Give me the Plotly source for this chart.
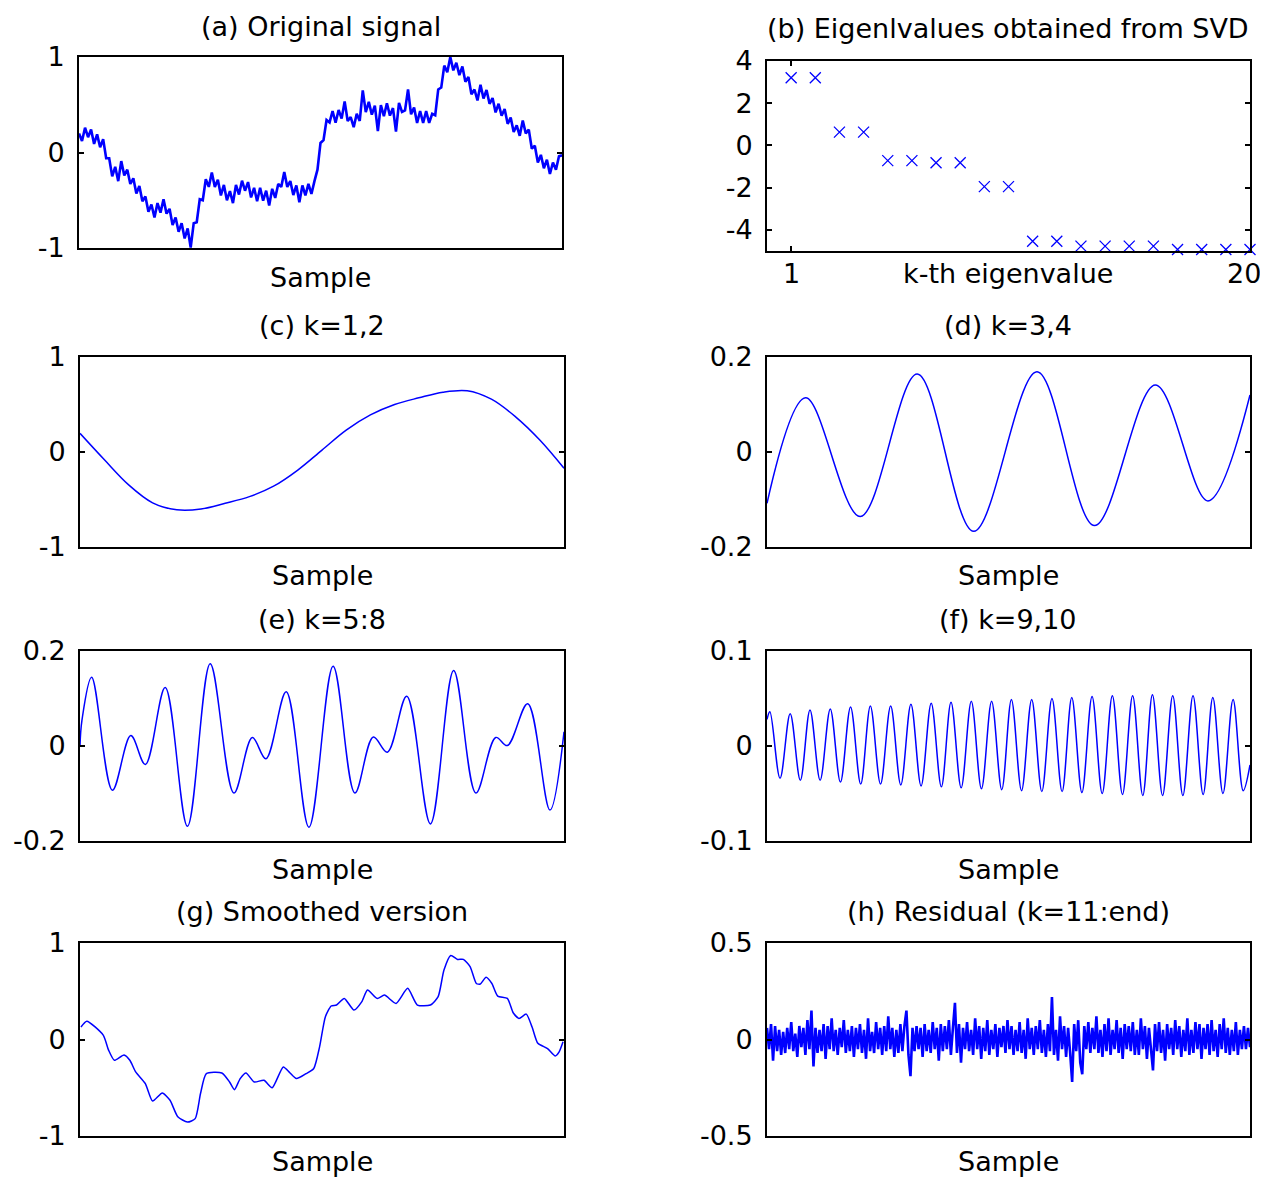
import plotly.graph_objects as go

# page geometry: the plot div sits inside the default 8px body margin
PAGE_W, PAGE_H = 1268, 1180
OFF = 8
W, H = PAGE_W - OFF, PAGE_H - OFF
FONT = "DejaVu Sans, Verdana, sans-serif"
FS = 27
BLUE = "#0000ff"
N_SAMPLES = 1000

# ---------------- data ----------------
# (a) original signal, evenly spaced over the sample axis
signal_original = [
    0.20, 0.12, 0.26, 0.16, 0.24, 0.09, 0.19, 0.055, 0.14, -0.06,
    -0.06, -0.25, -0.15, -0.30, -0.09, -0.24, -0.18, -0.33, -0.27, -0.43,
    -0.35, -0.51, -0.46, -0.62, -0.545, -0.68, -0.53, -0.63, -0.49, -0.64,
    -0.59, -0.76, -0.68, -0.83, -0.74, -0.90, -0.795, -0.995, -0.74, -0.73,
    -0.49, -0.50, -0.28, -0.36, -0.21, -0.36, -0.285, -0.45, -0.34, -0.50,
    -0.405, -0.53, -0.34, -0.44, -0.295, -0.40, -0.31, -0.47, -0.37, -0.51,
    -0.37, -0.505, -0.40, -0.555, -0.38, -0.475, -0.33, -0.36, -0.205, -0.36,
    -0.30, -0.445, -0.345, -0.52, -0.345, -0.45, -0.328, -0.434, -0.30, -0.18,
    0.10, 0.13, 0.34, 0.315, 0.435, 0.312, 0.445, 0.355, 0.535, 0.33,
    0.37, 0.265, 0.405, 0.33, 0.65, 0.423, 0.53, 0.396, 0.49, 0.225,
    0.497, 0.38, 0.516, 0.386, 0.465, 0.22, 0.52, 0.425, 0.44, 0.66,
    0.40, 0.47, 0.31, 0.433, 0.31, 0.433, 0.31, 0.405, 0.39, 0.66,
    0.68, 0.91, 0.84, 1.0, 0.86, 0.94, 0.81, 0.90, 0.74, 0.79,
    0.61, 0.66, 0.545, 0.71, 0.565, 0.655, 0.51, 0.57, 0.42, 0.51,
    0.385, 0.455, 0.30, 0.365, 0.215, 0.285, 0.175, 0.335, 0.20, 0.24,
    0.04, 0.07, -0.105, -0.025, -0.165, -0.075, -0.225, -0.105, -0.18, -0.04, -0.03,
]

# (b) eigenvalues (log scale values as plotted)
eig_index = list(range(1, 21))
eig_values = [3.21, 3.21, 0.63, 0.63, -0.72, -0.72, -0.82, -0.82, -1.95, -1.95,
              -4.54, -4.54, -4.77, -4.77, -4.77, -4.77, -4.93, -4.93, -4.93, -4.93]

# (c) k=1,2
comp12_samples = [0, 50, 100, 150, 200, 250, 300, 350, 400, 450, 500,
                  550, 600, 650, 700, 750, 800, 850, 900, 950, 1000]
comp12_values = [0.196, -0.08, -0.344, -0.535, -0.608, -0.60, -0.54, -0.47, -0.36, -0.19, 0.02,
                 0.23, 0.39, 0.50, 0.57, 0.63, 0.645, 0.556, 0.37, 0.126, -0.171]

# (d) k=3,4 (extrema)
comp34_samples = [0, 80, 193, 311, 428, 559, 678, 804, 913, 1000]
comp34_values = [-0.108, 0.114, -0.136, 0.164, -0.167, 0.169, -0.155, 0.141, -0.103, 0.12]

# (e) k=5:8 (extrema)
comp58_samples = [0, 4, 24, 67, 105, 135, 176, 222, 269, 318, 356, 384, 426, 473,
                  523, 568, 606, 635, 675, 724, 772, 818, 859, 883, 925, 971, 1000]
comp58_values = [0.0, 0.054, 0.145, -0.093, 0.022, -0.039, 0.123, -0.169, 0.173, -0.099,
                 0.018, -0.027, 0.114, -0.171, 0.168, -0.099, 0.019, -0.013, 0.105, -0.164,
                 0.159, -0.099, 0.018, 0.001, 0.089, -0.135, 0.03]

# (f) k=9,10 (alternating peaks and troughs)
comp910_samples = [0, 6, 27, 48, 69, 89, 110, 131, 152, 173, 194, 214, 235, 256, 277, 298,
                   319, 340, 361, 381, 402, 423, 444, 465, 486, 506, 527, 548, 569, 590,
                   611, 631, 652, 673, 694, 715, 736, 757, 778, 798, 819, 840, 861, 882,
                   903, 923, 944, 965, 986, 1000]
comp910_values = [0.028, 0.036, -0.034, 0.034, -0.036, 0.038, -0.036, 0.039, -0.038, 0.041,
                  -0.040, 0.042, -0.040, 0.042, -0.041, 0.044, -0.042, 0.045, -0.043, 0.046,
                  -0.044, 0.047, -0.045, 0.047, -0.046, 0.049, -0.047, 0.049, -0.048, 0.050,
                  -0.048, 0.051, -0.049, 0.052, -0.050, 0.053, -0.051, 0.053, -0.052, 0.054,
                  -0.052, 0.053, -0.052, 0.053, -0.051, 0.051, -0.050, 0.049, -0.047, -0.02]

# (g) smoothed version
smooth_samples = [2, 14, 48, 59, 71, 91, 103, 115, 135, 150, 170, 186, 202, 222, 238, 249,
                  261, 293, 309, 319, 331, 343, 360, 380, 397, 420, 434, 447, 467, 483, 495,
                  507, 519, 530, 546, 566, 582, 594, 614, 629, 653, 677, 697, 724, 740, 752,
                  766, 780, 792, 806, 819, 827, 839, 851, 863, 883, 895, 907, 922, 934, 946,
                  966, 982, 990, 998]
smooth_values = [0.13, 0.19, 0.045, -0.11, -0.215, -0.16, -0.215, -0.336, -0.457, -0.638,
                 -0.555, -0.63, -0.80, -0.856, -0.82, -0.56, -0.354, -0.347, -0.44, -0.52,
                 -0.405, -0.347, -0.44, -0.423, -0.50, -0.284, -0.347, -0.405, -0.354, -0.30,
                 -0.076, 0.236, 0.347, 0.357, 0.426, 0.305, 0.39, 0.513, 0.426, 0.46,
                 0.374, 0.53, 0.357, 0.357, 0.444, 0.72, 0.87, 0.83, 0.83, 0.756,
                 0.58, 0.575, 0.645, 0.58, 0.45, 0.426, 0.277, 0.218, 0.263, 0.13,
                 -0.04, -0.094, -0.17, -0.128, -0.024]

# (h) residual, evenly spaced over the sample axis
residual = [
    0.06, -0.05, 0.08, -0.11, 0.07, -0.06, 0.05, -0.08, 0.04, -0.07, 0.06, -0.05, 0.09, -0.06, 0.03, -0.09, 0.07, -0.04, 0.06, -0.08,
    0.10, -0.05, 0.15, -0.14, 0.06, -0.07, 0.05, -0.06, 0.08, -0.10, 0.07, -0.05, 0.11, -0.06, 0.05, -0.08, 0.06, -0.04, 0.10, -0.07,
    0.05, -0.06, 0.07, -0.09, 0.06, -0.05, 0.08, -0.07, 0.05, -0.10, 0.11, -0.06, 0.04, -0.07, 0.09, -0.05, 0.06, -0.08, 0.07, -0.06,
    0.12, -0.05, 0.06, -0.09, 0.05, -0.07, 0.08, -0.06, 0.07, 0.15, -0.08, -0.19, 0.06, -0.06, 0.07, -0.05, 0.06, -0.09, 0.08, -0.06,
    0.05, -0.07, 0.09, -0.05, 0.06, -0.11, 0.08, -0.06, 0.07, -0.05, 0.10, -0.08, 0.06, 0.19, -0.07, 0.08, -0.12, 0.06, -0.05, 0.09,
    -0.06, 0.05, -0.08, 0.11, -0.05, 0.07, -0.10, 0.06, -0.06, 0.10, -0.08, 0.05, -0.05, 0.08, -0.09, 0.06, -0.04, 0.07, -0.07, 0.10,
    -0.05, 0.07, -0.08, 0.05, -0.06, 0.09, -0.07, 0.05, -0.10, 0.11, -0.05, 0.06, -0.08, 0.07, -0.05, 0.10, -0.07, 0.05, -0.09, 0.08,
    -0.06, 0.22, -0.08, 0.05, -0.11, 0.12, -0.05, 0.07, -0.09, 0.06, -0.07, -0.22, 0.08, -0.06, 0.10, -0.12, -0.18, 0.07, -0.05, 0.09,
    -0.07, 0.06, -0.05, 0.12, -0.07, 0.05, -0.09, 0.08, -0.06, 0.11, -0.08, 0.05, -0.05, 0.10, -0.07, 0.06, -0.10, 0.08, -0.05, 0.07,
    -0.06, 0.09, -0.08, 0.05, -0.08, 0.11, -0.05, 0.07, -0.10, 0.06, -0.05, -0.16, 0.08, -0.06, 0.09, -0.07, 0.05, -0.11, 0.08, -0.05,
    0.06, -0.08, 0.10, -0.05, 0.07, -0.09, 0.05, -0.06, 0.11, -0.08, 0.05, -0.07, 0.09, -0.05, 0.08, -0.10, 0.06, -0.05, 0.08, -0.08,
    0.10, -0.06, 0.05, -0.09, 0.08, -0.05, 0.11, -0.07, 0.06, -0.08, 0.05, -0.06, 0.09, -0.08, 0.05, -0.05, 0.07, -0.05, 0.06, -0.04,
]

titles = ["(a) Original signal", "(b) Eigenlvalues obtained from SVD", "(c) k=1,2", "(d) k=3,4",
          "(e) k=5:8", "(f) k=9,10", "(g) Smoothed version", "(h) Residual (k=11:end)"]
xlabels = ["Sample", "k-th eigenvalue", "Sample", "Sample", "Sample", "Sample", "Sample", "Sample"]
y_ticks = [[-1, 0, 1], [-4, -2, 0, 2, 4], [-1, 0, 1], [-0.2, 0, 0.2],
           [-0.2, 0, 0.2], [-0.1, 0, 0.1], [-1, 0, 1], [-0.5, 0, 0.5]]
y_ticktext = [["-1", "0", "1"], ["-4", "-2", "0", "2", "4"], ["-1", "0", "1"], ["-0.2", "0", "0.2"],
              ["-0.2", "0", "0.2"], ["-0.1", "0", "0.1"], ["-1", "0", "1"], ["-0.5", "0", "0.5"]]
y_ranges = [[-1, 1], [-5, 4], [-1, 1], [-0.2, 0.2], [-0.2, 0.2], [-0.1, 0.1], [-1, 1], [-0.5, 0.5]]
eig_xtick_vals = [1, 20]
eig_xtick_text = ["1", "20"]

# ---------------- layout geometry (page pixels) ----------------
boxes = [
    (79, 57, 562, 248),
    (767, 61, 1250, 251),
    (80, 357, 564, 547),
    (767, 357, 1250, 547),
    (80, 651, 564, 841),
    (767, 651, 1250, 841),
    (80, 943, 564, 1136),
    (767, 943, 1250, 1136),
]
title_y = [26, 28, 326, 326, 619, 619, 911, 911]
xlabel_y = [277, 274, 575, 575, 869, 869, 1161, 1161]


def px(x):
    return (x - OFF) / W


def py(y):
    return 1 - (y - OFF) / H


fig = go.Figure()


def ax(i):
    return ("x", "y") if i == 0 else (f"x{i+1}", f"y{i+1}")


# (a)
n_a = len(signal_original)
xa, ya = ax(0)
fig.add_trace(go.Scatter(x=[k * N_SAMPLES / (n_a - 1) for k in range(n_a)], y=signal_original,
                         mode="lines", line=dict(color=BLUE, width=2.6), xaxis=xa, yaxis=ya))
# (b)
xb, yb = ax(1)
fig.add_trace(go.Scatter(x=eig_index, y=eig_values, mode="markers", cliponaxis=False,
                         marker=dict(symbol="x-thin", size=11, color=BLUE,
                                     line=dict(color=BLUE, width=1.3)),
                         xaxis=xb, yaxis=yb))
# (c)
xc, yc = ax(2)
fig.add_trace(go.Scatter(x=comp12_samples, y=comp12_values, mode="lines",
                         line=dict(color=BLUE, width=1.5, shape="spline"), xaxis=xc, yaxis=yc))
# (d)
xd, yd = ax(3)
fig.add_trace(go.Scatter(x=comp34_samples, y=comp34_values, mode="lines",
                         line=dict(color=BLUE, width=1.5, shape="spline"), xaxis=xd, yaxis=yd))
# (e)
xe, ye = ax(4)
fig.add_trace(go.Scatter(x=comp58_samples, y=comp58_values, mode="lines",
                         line=dict(color=BLUE, width=1.5, shape="spline"), xaxis=xe, yaxis=ye))
# (f)
xf, yf = ax(5)
fig.add_trace(go.Scatter(x=comp910_samples, y=comp910_values, mode="lines",
                         line=dict(color=BLUE, width=1.5, shape="spline"), xaxis=xf, yaxis=yf))
# (g)
xg, yg = ax(6)
fig.add_trace(go.Scatter(x=smooth_samples, y=smooth_values, mode="lines",
                         line=dict(color=BLUE, width=1.5, shape="spline", smoothing=0.6),
                         xaxis=xg, yaxis=yg))
# (h)
n_h = len(residual)
xh, yh = ax(7)
fig.add_trace(go.Scatter(x=[k * N_SAMPLES / (n_h - 1) for k in range(n_h)], y=residual,
                         mode="lines", line=dict(color=BLUE, width=2.6), xaxis=xh, yaxis=yh))

layout = dict(template="none", width=W, height=H,
              margin=dict(l=0, r=0, t=0, b=0, pad=0, autoexpand=False),
              paper_bgcolor="white", plot_bgcolor="white", showlegend=False,
              font=dict(family=FONT, size=FS, color="black"))

annotations = []
for i, (x0, y0, x1, y1) in enumerate(boxes):
    sfx = "" if i == 0 else str(i + 1)
    xaxis = dict(domain=[px(x0), px(x1)], anchor="y" + sfx, showgrid=False, zeroline=False,
                 automargin=False, showline=True, linecolor="black", linewidth=2, mirror=True,
                 range=[0, N_SAMPLES], showticklabels=False, ticks="")
    if i == 1:
        # tick marks at 1 and 20; the labels are drawn as text below so "20" stays inside the page
        xaxis.update(range=[0, 20], tickvals=eig_xtick_vals, ticks="inside", ticklen=5,
                     tickwidth=1.5, tickcolor="black", mirror="ticks", showticklabels=False)
        for v, t in zip(eig_xtick_vals, eig_xtick_text):
            last = v == eig_xtick_vals[-1]
            annotations.append(dict(text=t, x=v, xref="x2", y=py(274), yref="paper",
                                    xanchor="right" if last else "center", yanchor="middle",
                                    xshift=13 if last else 0, showarrow=False,
                                    font=dict(family=FONT, size=FS, color="black")))
    yaxis = dict(domain=[py(y1), py(y0)], anchor="x" + sfx, showgrid=False, zeroline=False,
                 automargin=False, showline=True, linecolor="black", linewidth=2, mirror="ticks",
                 range=y_ranges[i], tickvals=y_ticks[i], ticktext=y_ticktext[i],
                 ticks="inside", ticklen=5, tickwidth=1.5, tickcolor="black",
                 ticklabeloverflow="allow", ticklabelstandoff=7,
                 tickfont=dict(family=FONT, size=FS, color="black"))
    layout["xaxis" + sfx] = xaxis
    layout["yaxis" + sfx] = yaxis
    cx = px((x0 + x1) / 2)
    annotations.append(dict(text=titles[i], x=cx, y=py(title_y[i]), xref="paper", yref="paper",
                            xanchor="center", yanchor="middle", showarrow=False,
                            font=dict(family=FONT, size=FS, color="black")))
    annotations.append(dict(text=xlabels[i], x=cx, y=py(xlabel_y[i]), xref="paper", yref="paper",
                            xanchor="center", yanchor="middle", showarrow=False,
                            font=dict(family=FONT, size=FS, color="black")))
layout["annotations"] = annotations
fig.update_layout(**layout)

fig.write_html("out.html")
